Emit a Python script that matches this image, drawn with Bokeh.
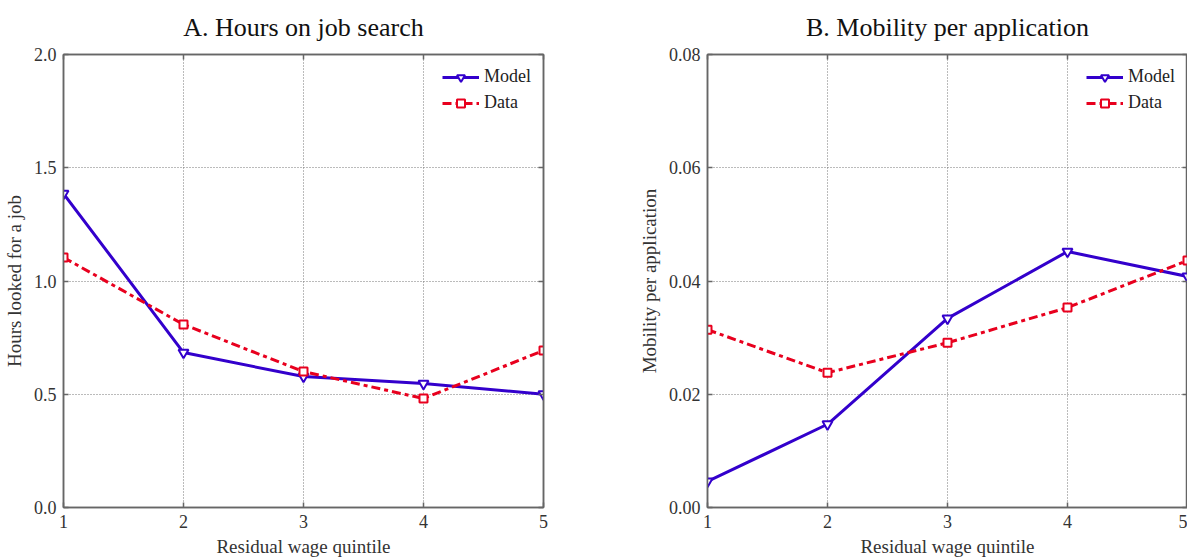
from bokeh.plotting import figure
from bokeh.layouts import row
from bokeh.models import (LinearAxis, FixedTicker, PrintfTickFormatter, Range1d,
                          Legend, LegendItem, CustomJSTickFormatter)
from bokeh.embed import file_html
from bokeh.resources import INLINE

quintiles = [1, 2, 3, 4, 5]

hours_model = [1.386, 0.684, 0.578, 0.547, 0.500]
hours_data = [1.104, 0.808, 0.600, 0.481, 0.693]

mob_model = [0.0046, 0.0147, 0.0334, 0.0452, 0.0408]
mob_data = [0.0314, 0.0238, 0.0291, 0.0353, 0.0436]

x_ticks = [1, 2, 3, 4, 5]
hours_ticks = [0.0, 0.5, 1.0, 1.5, 2.0]
mob_ticks = [0.00, 0.02, 0.04, 0.06, 0.08]

BLUE = "#3300CC"
RED = "#E8001E"
FONT = "Liberation Serif"
AX = "#666666"
FW, FH = 480, 453


def style_axis(ax, labels=True):
    ax.axis_line_color = AX
    ax.axis_line_width = 1.5
    ax.major_tick_in = 5
    ax.major_tick_out = 0
    ax.major_tick_line_color = AX
    ax.major_tick_line_width = 1.5
    ax.minor_tick_line_color = None
    ax.major_label_text_font = FONT
    ax.major_label_text_color = "#333333"
    ax.major_label_text_font_size = "18px"
    if not labels:
        ax.formatter = CustomJSTickFormatter(code="return ''")
        ax.major_label_text_color = None
        ax.major_label_standoff = 0


def panel(title, ylabel, model, data, yend, yticks, fmt, bl, br):
    p = figure(frame_width=FW, frame_height=FH, x_range=Range1d(1, 5), y_range=Range1d(0, yend),
               output_backend="svg", toolbar_location=None,
               min_border_left=bl, min_border_right=br, min_border_top=54, min_border_bottom=50)
    p.title.text = title
    p.title.text_font = FONT
    p.title.text_font_size = "26px"
    p.title.text_font_style = "normal"
    p.title.text_color = "#111111"
    p.title.align = "center"
    p.title.vertical_align = "top"
    p.title.standoff = 22

    p.outline_line_color = AX
    p.outline_line_width = 1.5

    p.xaxis.ticker = FixedTicker(ticks=x_ticks)
    p.yaxis.ticker = FixedTicker(ticks=yticks)
    p.yaxis.formatter = PrintfTickFormatter(format=fmt)
    p.xaxis.formatter = PrintfTickFormatter(format="%d")
    for ax in p.xaxis + p.yaxis:
        style_axis(ax)
        ax.axis_label_text_font = FONT
        ax.axis_label_text_font_size = "19px"
        ax.axis_label_text_font_style = "normal"
        ax.axis_label_text_color = "#333333"
    p.xaxis.axis_label = "Residual wage quintile"
    p.yaxis.axis_label = ylabel
    p.xaxis.major_label_standoff = 7
    p.xaxis.axis_label_standoff = 5
    p.yaxis.major_label_standoff = 7
    p.yaxis.axis_label_standoff = 6

    top = LinearAxis(ticker=FixedTicker(ticks=x_ticks))
    style_axis(top, labels=False)
    p.add_layout(top, "above")
    right = LinearAxis(ticker=FixedTicker(ticks=yticks))
    style_axis(right, labels=False)
    p.add_layout(right, "right")

    p.xgrid.ticker = FixedTicker(ticks=x_ticks)
    p.ygrid.ticker = FixedTicker(ticks=yticks)
    for g in (p.xgrid[0], p.ygrid[0]):
        g.grid_line_color = "#777777"
        g.grid_line_dash = "1 2"
        g.grid_line_width = 1

    lm = p.line(quintiles, model, line_color=BLUE, line_width=3)
    sm = p.scatter(quintiles, model, marker="inverted_triangle", size=10,
                   line_color=BLUE, line_width=2, fill_color="white")
    ld = p.line(quintiles, data, line_color=RED, line_width=3, line_dash="9 4 4 4")
    sd = p.scatter(quintiles, data, marker="square", size=8,
                   line_color=RED, line_width=2, fill_color="white")

    legend = Legend(items=[LegendItem(label="Model", renderers=[lm, sm]),
                           LegendItem(label="Data", renderers=[ld, sd])],
                    location="top_right")
    legend.label_text_font = FONT
    legend.label_text_font_size = "18px"
    legend.label_text_color = "#222222"
    legend.border_line_alpha = 0
    legend.background_fill_alpha = 0
    legend.glyph_width = 37
    legend.glyph_height = 20
    legend.label_height = 20
    legend.label_standoff = 5
    legend.spacing = 5
    legend.margin = 5
    legend.padding = 7
    p.add_layout(legend)
    return p


p1 = panel("A. Hours on job search", "Hours looked for a job", hours_model, hours_data,
           2.0, hours_ticks, "%.1f", 55, 30)
p2 = panel("B. Mobility per application", "Mobility per application", mob_model, mob_data,
           0.08, mob_ticks, "%.2f", 134, 0)

layout = row(p1, p2)
open("out.html", "w").write(file_html(layout, INLINE))
